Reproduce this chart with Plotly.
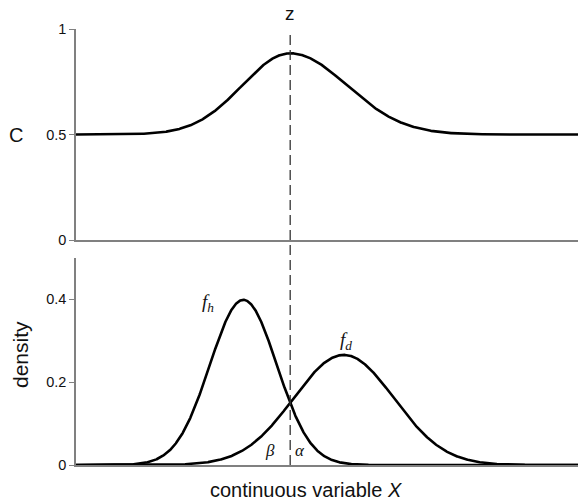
import numpy as np
import plotly.graph_objects as go

# Horizontal extent of the continuous variable X
X_MIN, X_MAX = -5.0, 10.0
Z = 1.4  # decision threshold z

# Class-conditional densities (normal): f_h and f_d
FH_MEAN, FH_SD = 0.0, 1.0
FD_MEAN, FD_SD = 3.0, 1.5

# C curve: baseline level, peak level at z, left/right spread of the bump
C_BASE = 0.5
C_PEAK = 0.885
C_SD_LEFT, C_SD_RIGHT = 1.43, 1.69

# Axis ticks
C_TICKS = [0, 0.5, 1]
C_TICK_TEXT = ["0", "0.5", "1"]
D_TICKS = [0, 0.2, 0.4]
D_TICK_TEXT = ["0", "0.2", "0.4"]

AXIS_GRAY = "#808080"
INK = "#111111"


def normal_pdf(x, mu, sd):
    return np.exp(-0.5 * ((x - mu) / sd) ** 2) / (sd * np.sqrt(2 * np.pi))


x = np.linspace(X_MIN, X_MAX, 1501)
fh = normal_pdf(x, FH_MEAN, FH_SD)
fd = normal_pdf(x, FD_MEAN, FD_SD)
sd_side = np.where(x < Z, C_SD_LEFT, C_SD_RIGHT)
c_curve = C_BASE + (C_PEAK - C_BASE) * np.exp(-0.5 * ((x - Z) / sd_side) ** 2)

line_style = dict(color="black", width=2.6)

fig = go.Figure()
fig.add_trace(go.Scatter(x=x, y=c_curve, mode="lines", line=line_style,
                         xaxis="x", yaxis="y", hoverinfo="skip"))
fig.add_trace(go.Scatter(x=x, y=fh, mode="lines", line=line_style,
                         xaxis="x2", yaxis="y2", hoverinfo="skip"))
fig.add_trace(go.Scatter(x=x, y=fd, mode="lines", line=line_style,
                         xaxis="x2", yaxis="y2", hoverinfo="skip"))

W, H = 578, 503
M_L, M_R, M_T, M_B = 76, 0, 29, 38
plot_h = H - M_T - M_B


def py(pix):
    """pixel row -> paper y"""
    return (H - M_B - pix) / plot_h


def px(pix):
    """pixel column -> paper x"""
    return (pix - M_L) / (W - M_L - M_R)


x_common = dict(range=[X_MIN, X_MAX], showline=True, linecolor=AXIS_GRAY,
                linewidth=1.6, showticklabels=False, ticks="", showgrid=False,
                zeroline=False, layer="below traces", fixedrange=True)
y_common = dict(showline=True, linecolor=AXIS_GRAY, linewidth=1.6,
                ticks="outside", ticklen=5, tickwidth=1.2, tickcolor=AXIS_GRAY,
                showgrid=False, zeroline=False, layer="below traces",
                tickfont=dict(family="Arial", size=14.5, color=INK),
                fixedrange=True)

fig.update_layout(
    width=W, height=H,
    margin=dict(l=M_L, r=M_R, t=M_T, b=M_B),
    paper_bgcolor="white", plot_bgcolor="white",
    showlegend=False,
    xaxis=dict(**x_common, domain=[0, 1], anchor="y"),
    yaxis=dict(**y_common, domain=[py(240), 1], range=[0, 1],
               tickvals=C_TICKS, ticktext=C_TICK_TEXT, anchor="x"),
    xaxis2=dict(**x_common, domain=[0, 1], anchor="y2"),
    yaxis2=dict(**y_common, domain=[0, py(258)], range=[0, 0.5],
                tickvals=D_TICKS, ticktext=D_TICK_TEXT, anchor="x2"),
)

# Dashed threshold line through both panels
fig.add_shape(type="line", xref="x", yref="paper", x0=Z, x1=Z,
              y0=0, y1=py(30), line=dict(color="#333333", width=1.3, dash="10px,5px"),
              layer="above")

sans = "Arial"
serif = "Liberation Serif"
ann = [
    dict(text="z", x=Z, xref="x", y=py(13), yref="paper",
         font=dict(family=sans, size=19, color=INK)),
    dict(text="C", x=px(16), xref="paper", y=py(135), yref="paper",
         font=dict(family=sans, size=20, color=INK)),
    dict(text="density", x=px(20), xref="paper", y=py(355), yref="paper",
         textangle=-90, font=dict(family=sans, size=21, color=INK)),
    dict(text="continuous variable <i>X</i>", x=px(306), xref="paper",
         y=py(490), yref="paper", font=dict(family=sans, size=20, color=INK)),
    dict(text="<i>f</i><sub><i>h</i></sub>", x=px(208), xref="paper",
         y=py(303), yref="paper", font=dict(family=serif, size=19, color=INK)),
    dict(text="<i>f</i><sub><i>d</i></sub>", x=px(346), xref="paper",
         y=py(341), yref="paper", font=dict(family=serif, size=19, color=INK)),
    dict(text="<i>β</i>", x=px(270), xref="paper", y=py(450), yref="paper",
         font=dict(family=serif, size=17, color=INK)),
    dict(text="<i>α</i>", x=px(300), xref="paper", y=py(450), yref="paper",
         font=dict(family=serif, size=17, color=INK)),
]
for a in ann:
    fig.add_annotation(showarrow=False, xanchor="center", yanchor="middle", **a)

fig.write_html("out.html")
